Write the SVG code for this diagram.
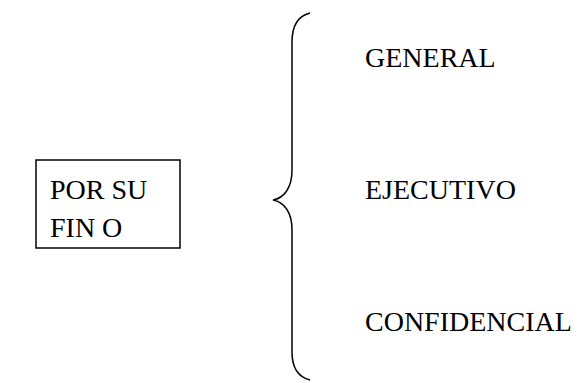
<svg xmlns="http://www.w3.org/2000/svg" width="579" height="383" viewBox="0 0 579 383">
  <style>
    text { font-family: 'Liberation Serif', 'Times New Roman', serif; font-size: 28px; fill: #000; }
    .ln { fill: none; stroke: #000; stroke-width: 1.5; }
  </style>
  <rect width="579" height="383" fill="#fff"/>
  <g id="node-por-su-fin">
    <rect x="36" y="160" width="144" height="88" class="ln" stroke-width="1.3"/>
    <text x="50" y="199" font-family="Liberation Serif, serif">POR SU</text>
    <text x="50" y="237" font-family="Liberation Serif, serif">FIN O</text>
  </g>
  <g id="connectors">
    <path class="ln" d="M310 13 C298 16 292 26 292 42 L292 170 C292 188 284 198 273 200 C284 202 292 212 292 230 L292 352 C292 368 298 377 310 380"/>
  </g>
  <g id="node-general">
    <text x="365" y="67" font-family="Liberation Serif, serif">GENERAL</text>
  </g>
  <g id="node-ejecutivo">
    <text x="365" y="199" font-family="Liberation Serif, serif">EJECUTIVO</text>
  </g>
  <g id="node-confidencial">
    <text x="365" y="331" font-family="Liberation Serif, serif">CONFIDENCIAL</text>
  </g>
</svg>
